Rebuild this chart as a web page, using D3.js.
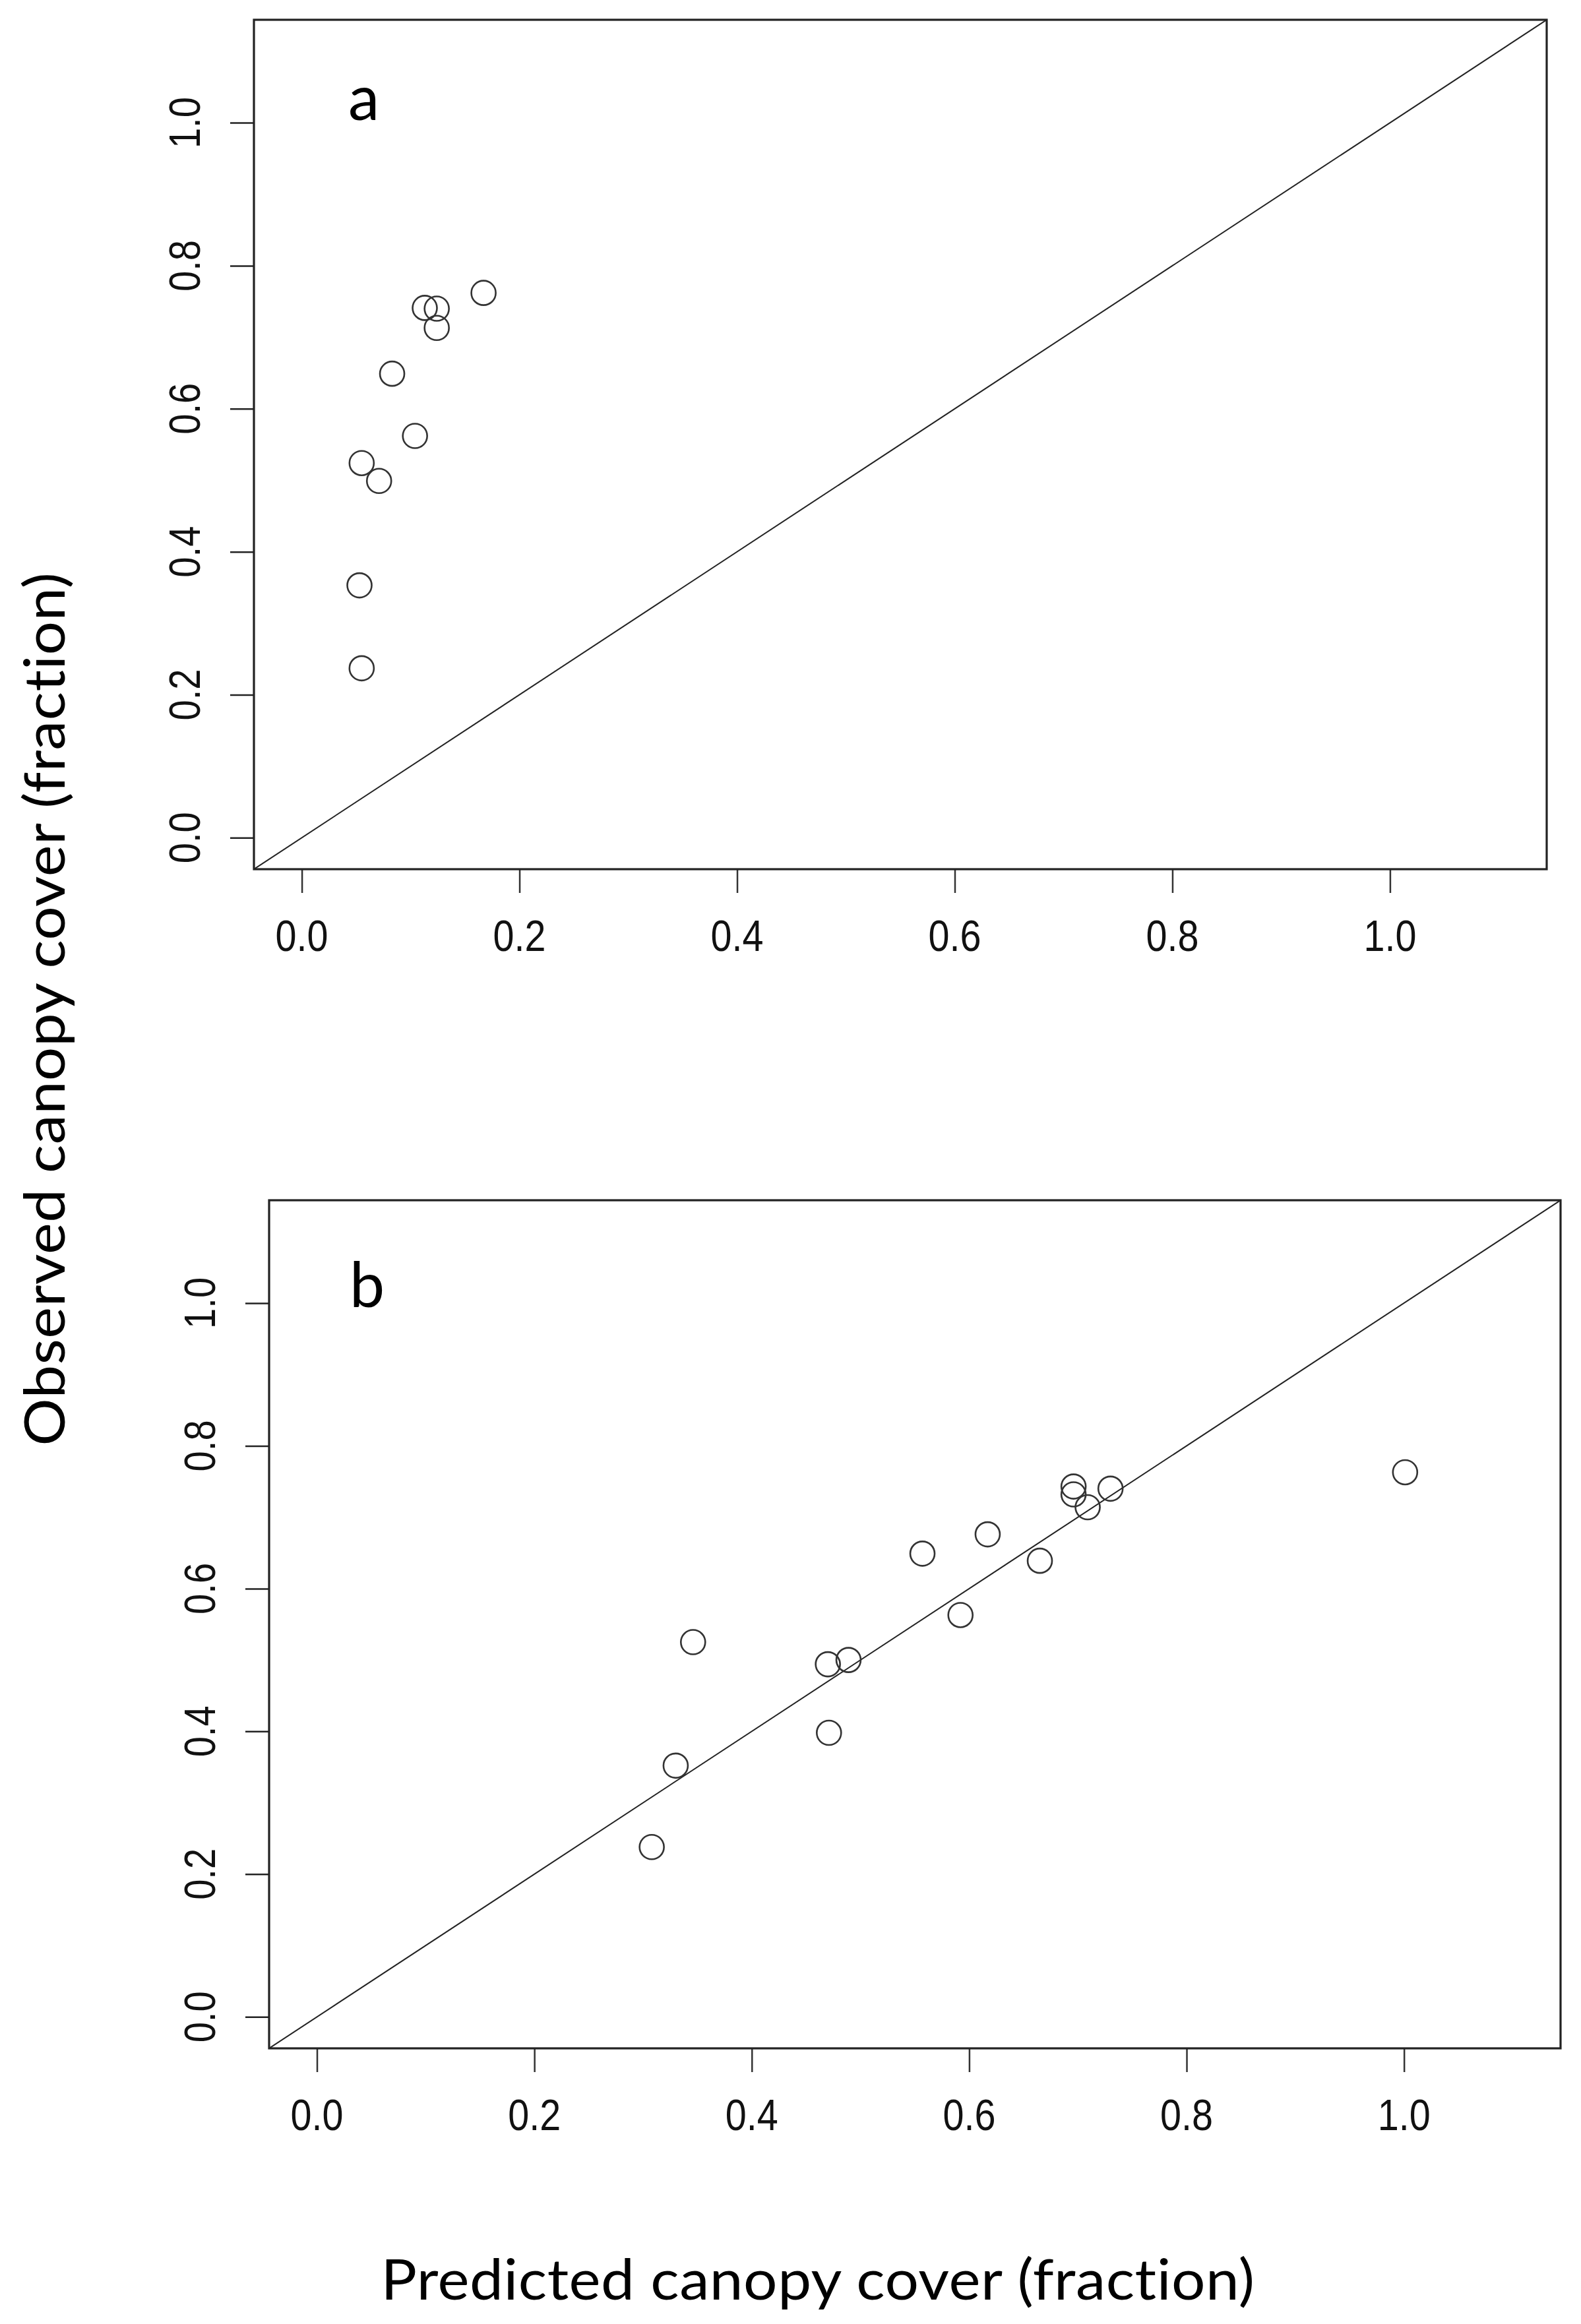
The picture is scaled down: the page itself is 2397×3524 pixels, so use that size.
<!DOCTYPE html>
<html>
<head>
<meta charset="utf-8">
<script src="https://cdnjs.cloudflare.com/ajax/libs/d3/7.8.5/d3.min.js"></script>
<style>
    body { margin: 0; background: #fff; }
    svg { display: block; }
    text { font-variant-ligatures: none; font-feature-settings: "liga" 0, "clig" 0; }
    .title { letter-spacing: 0.5px; }
</style>
</head>
<body>
<div id="chart"></div>
<script>
// panel a: predicted vs observed canopy cover
var predA = [0.167, 0.113, 0.124, 0.124, 0.083, 0.104, 0.055, 0.071, 0.053, 0.055];
var obsA  = [0.762, 0.741, 0.740, 0.713, 0.649, 0.562, 0.524, 0.499, 0.353, 0.237];

// panel b
var predB = [0.696, 0.696, 0.709, 0.730, 0.617, 0.557, 0.665, 0.592, 0.346, 0.470, 0.489, 0.471, 0.330, 0.308, 1.001];
var obsB  = [0.743, 0.732, 0.714, 0.740, 0.676, 0.649, 0.639, 0.563, 0.525, 0.494, 0.500, 0.398, 0.352, 0.238, 0.763];

var tickValues = [0.0, 0.2, 0.4, 0.6, 0.8, 1.0];
var axisLimits = [-0.044, 1.144];
var panelLabels = ['a', 'b'];
var xTitle = 'Predicted canopy cover (fraction)';
var yTitle = 'Observed canopy cover (fraction)';

var W = 2397, H = 3524;
var svg = d3.select('#chart').append('svg')
    .attr('width', W)
    .attr('height', H);

var panels = [
    {id: 'a', pred: predA, obs: obsA, left: 385, right: 2345, top: 30, bottom: 1318},
    {id: 'b', pred: predB, obs: obsB, left: 408, right: 2366, top: 1820, bottom: 3106}
];

var tickFont = '"Liberation Sans", Arial, sans-serif';
var titleFont = 'Lato, "Open Sans", sans-serif';

panels.forEach(function(p, i) {
    var x = d3.scaleLinear().domain(axisLimits).range([p.left, p.right]);
    var y = d3.scaleLinear().domain(axisLimits).range([p.bottom, p.top]);
    var g = svg.append('g').attr('class', 'panel_' + p.id);

    // clip for the 1:1 line
    g.append('clipPath').attr('id', 'clip_' + p.id)
        .append('rect')
        .attr('x', p.left).attr('y', p.top)
        .attr('width', p.right - p.left).attr('height', p.bottom - p.top);

    // 1:1 line
    g.append('line')
        .attr('clip-path', 'url(#clip_' + p.id + ')')
        .attr('x1', x(axisLimits[0])).attr('y1', y(axisLimits[0]))
        .attr('x2', x(axisLimits[1])).attr('y2', y(axisLimits[1]))
        .attr('stroke', '#222')
        .attr('stroke-width', 2);

    // points
    g.selectAll('circle.pt').data(d3.range(p.pred.length))
        .enter()
        .append('circle')
        .attr('class', 'pt')
        .attr('cx', function(d) { return x(p.pred[d]); })
        .attr('cy', function(d) { return y(p.obs[d]); })
        .attr('r', 18.5)
        .attr('fill', 'none')
        .attr('stroke', '#333')
        .attr('stroke-width', 2.6);

    // bottom axis ticks
    var xAxis = d3.axisBottom(x).tickValues(tickValues).tickSize(36).tickFormat('');
    g.append('g').attr('transform', 'translate(0,' + p.bottom + ')').call(xAxis)
        .call(function(a) { a.select('.domain').remove(); })
        .selectAll('line').attr('stroke', '#333').attr('stroke-width', 2.5);

    // left axis ticks
    var yAxis = d3.axisLeft(y).tickValues(tickValues).tickSize(36).tickFormat('');
    g.append('g').attr('transform', 'translate(' + p.left + ',0)').call(yAxis)
        .call(function(a) { a.select('.domain').remove(); })
        .selectAll('line').attr('stroke', '#222').attr('stroke-width', 2.5);

    // x tick labels
    g.selectAll('text.xlab').data(tickValues)
        .enter()
        .append('text')
        .attr('class', 'xlab')
        .attr('x', function(d) { return x(d); })
        .attr('y', p.bottom + 124)
        .attr('text-anchor', 'middle')
        .attr('font-family', tickFont)
        .attr('font-size', 66)
        .attr('textLength', 80)
        .attr('lengthAdjust', 'spacingAndGlyphs')
        .attr('fill', '#111')
        .text(function(d) { return d.toFixed(1); });

    // y tick labels, rotated like R's default
    g.selectAll('text.ylab').data(tickValues)
        .enter()
        .append('text')
        .attr('class', 'ylab')
        .attr('transform', function(d) { return 'translate(' + (p.left - 82) + ',' + y(d) + ') rotate(-90)'; })
        .attr('text-anchor', 'middle')
        .attr('font-family', tickFont)
        .attr('font-size', 66)
        .attr('textLength', 78)
        .attr('lengthAdjust', 'spacingAndGlyphs')
        .attr('fill', '#111')
        .text(function(d) { return d.toFixed(1); });

    // frame
    g.append('rect')
        .attr('x', p.left).attr('y', p.top)
        .attr('width', p.right - p.left).attr('height', p.bottom - p.top)
        .attr('fill', 'none')
        .attr('stroke', '#222')
        .attr('stroke-width', 3.2);

    // panel letter
    g.append('text')
        .attr('x', p.left + (i === 0 ? 143 : 122))
        .attr('y', p.top + (i === 0 ? 152 : 162))
        .attr('font-family', titleFont)
        .attr('font-size', 95)
        .attr('fill', '#000')
        .text(panelLabels[i]);
});

// shared axis titles
svg.append('text')
    .attr('class', 'title')
    .attr('x', 1240)
    .attr('y', 3487)
    .attr('text-anchor', 'middle')
    .attr('font-family', titleFont)
    .attr('font-size', 85)
    .attr('textLength', 1325)
    .attr('lengthAdjust', 'spacingAndGlyphs')
    .attr('fill', '#000')
    .text(xTitle);

svg.append('text')
    .attr('class', 'title')
    .attr('transform', 'translate(98,1530) rotate(-90)')
    .attr('text-anchor', 'middle')
    .attr('font-family', titleFont)
    .attr('font-size', 85)
    .attr('textLength', 1325)
    .attr('lengthAdjust', 'spacingAndGlyphs')
    .attr('fill', '#000')
    .text(yTitle);
</script>
</body>
</html>
